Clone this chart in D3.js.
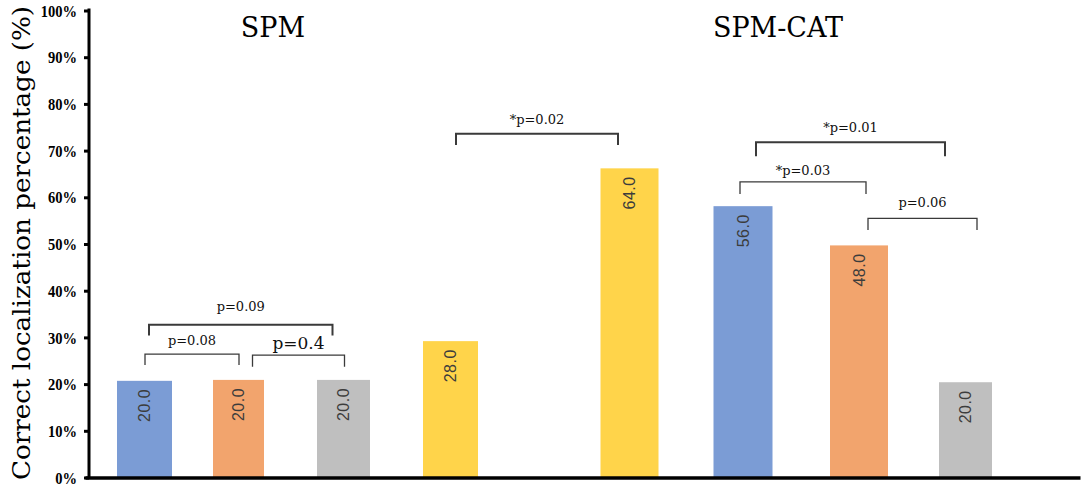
<!DOCTYPE html>
<html>
<head>
<meta charset="utf-8">
<script src="https://cdn.jsdelivr.net/npm/d3@7"></script>
<style>
  body { margin: 0; background: #fff; }
  svg { display: block; }
</style>
</head>
<body>
<svg id="chart" width="1084" height="492"></svg>
<script>
// ---------- data ----------
const categories = ["SPM-1", "SPM-2", "SPM-3", "SPM-4", "CAT-4", "CAT-1", "CAT-2", "CAT-3"];
// bar heights as drawn in the figure (%)
const barHeights = [20.7, 20.9, 20.9, 29.2, 66.2, 58.1, 49.7, 20.4];
// value labels printed on the bars
const barLabels = ["20.0", "20.0", "20.0", "28.0", "64.0", "56.0", "48.0", "20.0"];
const barColorKeys = ["blue", "orange", "gray", "yellow", "yellow", "blue", "orange", "gray"];
const groupTitles = ["SPM", "SPM-CAT"];
const yTicks = [0, 10, 20, 30, 40, 50, 60, 70, 80, 90, 100];
const yTitle = "Correct localization percentage (%)";
// significance comparisons: from / to category, label, bracket top level (%), leg end level (%)
const compFrom = ["SPM-1", "SPM-2", "SPM-1", "SPM-4", "CAT-1", "CAT-1", "CAT-2"];
const compTo = ["SPM-2", "SPM-3", "SPM-3", "CAT-4", "CAT-3", "CAT-2", "CAT-3"];
const compLabels = ["p=0.08", "p=0.4", "p=0.09", "*p=0.02", "*p=0.01", "*p=0.03", "p=0.06"];
const compTop = [26.4, 26.2, 32.7, 73.6, 71.8, 63.3, 55.5];
const compBottom = [24.1, 23.7, 30.4, 71.2, 68.8, 60.7, 53.0];

// ---------- layout / style ----------
const colors = d3.scaleOrdinal()
  .domain(["blue", "orange", "gray", "yellow"])
  .range(["#7b9cd5", "#f2a46d", "#bfbfbf", "#ffd44a"]);
const xCenter = d3.scaleOrdinal().domain(categories)
  .range([144.5, 238.5, 343.5, 450.5, 629.5, 743, 859, 965.5]);
const barWidth = d3.scaleOrdinal().domain(categories)
  .range([55, 51, 53, 55, 58, 59, 58, 53]);
// bracket leg offsets from bar centers, label gaps, stroke widths, font sizes
const legOffL = [0.5, 14, 4.5, 5.5, 13, -3, 9];
const legOffR = [0.5, 1, -11, -11.5, -20.5, 7, 11.5];
const labelGap = [9, 6, 14, 10, 10, 7, 11];
const strokeW = [1.3, 1.3, 2, 2, 2, 1.3, 1.3];
const labelSize = [13, 17, 13, 13, 13, 13, 13];
const titleX = [273, 778];

const svg = d3.select("#chart");
svg.append("rect").attr("width", 1084).attr("height", 492).attr("fill", "#fff");

const y = d3.scaleLinear().domain([0, 100]).range([477.5, 10.5]);
const axisX = 89;

// bars
const bars = categories.map((c, i) => ({ c, h: barHeights[i], label: barLabels[i], col: barColorKeys[i] }));
svg.append("g").selectAll("rect").data(bars).join("rect")
  .attr("x", d => xCenter(d.c) - barWidth(d.c) / 2)
  .attr("width", d => barWidth(d.c))
  .attr("y", d => y(d.h))
  .attr("height", d => y(0) - y(d.h))
  .attr("fill", d => colors(d.col));

// bar value labels (rotated)
svg.append("g").selectAll("text").data(bars).join("text")
  .attr("transform", d => `translate(${xCenter(d.c)},${y(d.h) + 8}) rotate(-90)`)
  .attr("text-anchor", "end")
  .attr("dominant-baseline", "central")
  .attr("font-family", "Liberation Sans, Arial, sans-serif")
  .attr("font-size", 16)
  .attr("letter-spacing", 0.5)
  .attr("fill", "#3c3c3c")
  .text(d => d.label);

// y axis
const yAxis = d3.axisLeft(y).tickValues(yTicks).tickFormat(d => d + "%").tickSize(5).tickPadding(7);
const gy = svg.append("g").attr("transform", `translate(${axisX},0)`).call(yAxis);
gy.select(".domain").attr("stroke", "#000").attr("stroke-width", 3).attr("d", `M0,${y(100) - 2}V${y(0) + 1.5}`);
gy.selectAll(".tick line").attr("stroke", "#000").attr("stroke-width", 3);
gy.selectAll(".tick text")
  .attr("font-family", "Liberation Serif, Times New Roman, serif")
  .attr("font-weight", "bold")
  .attr("font-size", 17.5)
  .attr("transform", "scale(0.83,1)")
  .attr("x", -12 / 0.83)
  .attr("fill", "#000");

// x axis baseline
const xBase = d3.scaleLinear().domain([0, 1]).range([axisX - 4, 1080]);
const gx = svg.append("g").attr("transform", `translate(0,${y(0)})`)
  .call(d3.axisBottom(xBase).tickValues([]).tickSizeOuter(0));
gx.select(".domain").attr("stroke", "#000").attr("stroke-width", 3.5);

// y title
svg.append("text")
  .attr("transform", `translate(30,${243}) rotate(-90)`)
  .attr("text-anchor", "middle")
  .attr("font-family", "DejaVu Serif, serif")
  .attr("font-size", 25)
  .attr("textLength", 474)
  .attr("lengthAdjust", "spacingAndGlyphs")
  .attr("fill", "#000")
  .text(yTitle);

// group titles
svg.append("g").selectAll("text").data(groupTitles).join("text")
  .attr("x", (d, i) => titleX[i])
  .attr("y", 37)
  .attr("text-anchor", "middle")
  .attr("font-family", "DejaVu Serif, serif")
  .attr("font-size", 27)
  .attr("fill", "#000")
  .text(d => d);

// significance brackets
const comps = compLabels.map((l, i) => ({
  x1: xCenter(compFrom[i]) + legOffL[i],
  x2: xCenter(compTo[i]) + legOffR[i],
  top: y(compTop[i]),
  bot: y(compBottom[i]),
  label: l, i
}));
const gb = svg.append("g");
gb.selectAll("path").data(comps).join("path")
  .attr("d", d => `M${d.x1},${d.bot}V${d.top}H${d.x2}V${d.bot}`)
  .attr("fill", "none")
  .attr("stroke", "#3a3a3a")
  .attr("stroke-width", d => strokeW[d.i]);
gb.selectAll("text").data(comps).join("text")
  .attr("x", d => (d.x1 + d.x2) / 2)
  .attr("y", d => d.top - labelGap[d.i])
  .attr("text-anchor", "middle")
  .attr("font-family", "DejaVu Serif, serif")
  .attr("font-size", d => labelSize[d.i])
  .attr("fill", "#111")
  .text(d => d.label);
</script>
</body>
</html>
